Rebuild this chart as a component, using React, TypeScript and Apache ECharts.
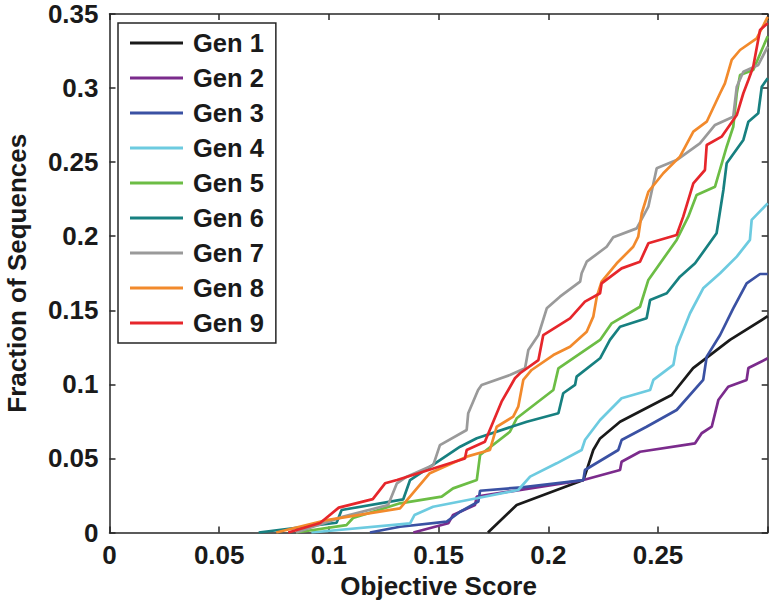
import React, { useEffect, useRef } from "react";
import * as echarts from "echarts";

const seriesNames = ["Gen 1", "Gen 2", "Gen 3", "Gen 4", "Gen 5", "Gen 6", "Gen 7", "Gen 8", "Gen 9"];
const seriesColors = ["#1a1a1a", "#7b2b8c", "#3a51a3", "#6dcbe0", "#6cbd45", "#178080", "#9a9a9a", "#f28a2c", "#e6262b"];

const gen1 = [[0.1725,0],[0.1856,0.0186],[0.216,0.0354],[0.2205,0.0557],[0.2236,0.0635],[0.2327,0.0748],[0.2562,0.0928],[0.266,0.111],[0.2828,0.13],[0.3,0.146]];
const gen2 = [[0.1385,0],[0.1544,0.0062],[0.1566,0.0118],[0.1666,0.0186],[0.1674,0.0242],[0.216,0.0354],[0.2327,0.0422],[0.2334,0.0478],[0.2418,0.0545],[0.2669,0.0602],[0.2699,0.067],[0.2745,0.0714],[0.2775,0.0894],[0.282,0.0984],[0.2904,0.103],[0.2912,0.111],[0.3,0.1176]];
const gen3 = [[0.1187,0],[0.1324,0.0039],[0.1537,0.0073],[0.1598,0.014],[0.1681,0.0208],[0.1689,0.0282],[0.1879,0.0305],[0.216,0.0354],[0.2167,0.0422],[0.2319,0.0557],[0.2334,0.0624],[0.2448,0.0714],[0.2585,0.0827],[0.2706,0.103],[0.2722,0.1187],[0.2783,0.1333],[0.2843,0.1513],[0.2904,0.1682],[0.2965,0.1745],[0.3,0.1745]];
const gen4 = [[0.092,0],[0.137,0.0062],[0.139,0.0118],[0.1475,0.0174],[0.1674,0.0231],[0.1863,0.0287],[0.1917,0.0377],[0.2038,0.0467],[0.2152,0.0557],[0.2167,0.0624],[0.2236,0.0759],[0.2334,0.0906],[0.2464,0.0962],[0.2479,0.103],[0.257,0.1131],[0.2585,0.1254],[0.2646,0.148],[0.2706,0.1648],[0.2783,0.175],[0.2859,0.1862],[0.2919,0.1975],[0.2927,0.211],[0.3,0.2222]];
const gen5 = [[0.085,0],[0.108,0.005],[0.111,0.0098],[0.1324,0.0197],[0.1514,0.0242],[0.1566,0.0298],[0.1674,0.0354],[0.1689,0.0523],[0.1825,0.068],[0.1856,0.0771],[0.2023,0.0962],[0.2046,0.1108],[0.2236,0.13],[0.2289,0.1412],[0.2418,0.1524],[0.2456,0.1705],[0.2585,0.1975],[0.2638,0.2132],[0.2676,0.2278],[0.276,0.2334],[0.2813,0.2604],[0.2843,0.2739],[0.2859,0.2965],[0.2874,0.3088],[0.2934,0.3122],[0.2973,0.3257],[0.3,0.335]];
const gen6 = [[0.068,0],[0.1035,0.0066],[0.1058,0.0152],[0.1339,0.0224],[0.137,0.0354],[0.1598,0.0579],[0.1674,0.0636],[0.1902,0.0748],[0.2046,0.0805],[0.2068,0.094],[0.2122,0.0996],[0.2129,0.1052],[0.2236,0.1176],[0.2281,0.13],[0.2327,0.1389],[0.2448,0.1446],[0.2464,0.157],[0.254,0.1615],[0.26,0.1727],[0.2669,0.1817],[0.2767,0.202],[0.2798,0.2312],[0.2813,0.2492],[0.2889,0.265],[0.2912,0.2773],[0.2957,0.283],[0.2973,0.3009],[0.3,0.3066]];
const gen7 = [[0.085,0],[0.1066,0.0107],[0.127,0.0186],[0.131,0.0332],[0.1355,0.0377],[0.1476,0.0456],[0.1506,0.059],[0.1628,0.0692],[0.1635,0.0805],[0.168,0.0962],[0.1696,0.0996],[0.1825,0.1063],[0.1894,0.1108],[0.1909,0.1232],[0.1955,0.1333],[0.1993,0.1513],[0.2053,0.1592],[0.2145,0.1693],[0.2152,0.175],[0.2175,0.1828],[0.2266,0.1929],[0.2296,0.1993],[0.2403,0.2053],[0.2456,0.2199],[0.2494,0.2458],[0.2585,0.2514],[0.2691,0.2627],[0.276,0.2751],[0.2843,0.2807],[0.2859,0.3009],[0.2889,0.311],[0.2957,0.3156],[0.3,0.328]];
const gen8 = [[0.076,0],[0.099,0.0084],[0.1324,0.0163],[0.146,0.04],[0.1628,0.0512],[0.1734,0.0557],[0.1765,0.0714],[0.184,0.0782],[0.1863,0.0849],[0.1886,0.103],[0.1924,0.1097],[0.2023,0.1198],[0.2099,0.1254],[0.2175,0.1355],[0.2205,0.1457],[0.2221,0.1592],[0.2243,0.1693],[0.2312,0.1817],[0.2387,0.1929],[0.241,0.1997],[0.2426,0.2155],[0.2456,0.23],[0.2524,0.2425],[0.26,0.2537],[0.2661,0.2706],[0.2722,0.2773],[0.2783,0.2965],[0.2805,0.3032],[0.2836,0.319],[0.2874,0.3257],[0.295,0.3336],[0.3,0.348]];
const gen9 = [[0.0815,0],[0.096,0.0064],[0.1045,0.0168],[0.12,0.0225],[0.1256,0.0332],[0.131,0.0354],[0.162,0.05],[0.1628,0.0557],[0.1711,0.0613],[0.1787,0.0883],[0.1848,0.1041],[0.1871,0.1075],[0.1955,0.1164],[0.1977,0.1333],[0.2099,0.1446],[0.2167,0.1558],[0.2236,0.1615],[0.2243,0.1682],[0.2334,0.1783],[0.2418,0.1828],[0.2456,0.1952],[0.2585,0.2008],[0.2615,0.2132],[0.2661,0.2357],[0.2714,0.2447],[0.2722,0.2616],[0.279,0.2672],[0.2859,0.2818],[0.2889,0.2965],[0.2912,0.3055],[0.2934,0.3144],[0.2965,0.3392],[0.3,0.3437]];

const seriesData = [gen1, gen2, gen3, gen4, gen5, gen6, gen7, gen8, gen9];

const FONT = "'Liberation Sans', Arial, Helvetica, sans-serif";
const AXIS_COLOR = "#262626";
const TEXT_COLOR = "#1a1a1a";

export default function App() {
  const ref = useRef<HTMLDivElement>(null);
  useEffect(() => {
    if (!ref.current) return;
    const chart = echarts.init(ref.current, null, { renderer: "svg" });
    const axisCommon = {
      type: "value",
      min: 0,
      interval: 0.05,
      splitLine: { show: false },
      axisLine: { show: true, onZero: false, lineStyle: { color: AXIS_COLOR, width: 1.5 } },
      axisTick: { show: true, inside: true, length: 6, lineStyle: { color: AXIS_COLOR, width: 1.5 } },
    };
    const textBase = { fontFamily: FONT, fontWeight: "bold", fontSize: 26, color: TEXT_COLOR };
    chart.setOption({
      animation: false,
      backgroundColor: "#ffffff",
      grid: { left: 109.5, right: 2.3, top: 14, bottom: 76.5, containLabel: false, outerBoundsMode: "none" },
      legend: {
        show: true,
        orient: "vertical",
        left: 118,
        top: 23,
        data: seriesNames,
        icon: "rect",
        itemWidth: 53,
        itemHeight: 3,
        itemGap: 5,
        padding: [5, 12, 5, 12],
        borderColor: AXIS_COLOR,
        borderWidth: 1.5,
        backgroundColor: "#ffffff",
        textStyle: { ...textBase, fontSize: 25.5, lineHeight: 30, padding: [0, 0, 0, 5] },
      },
      xAxis: [
        {
          ...axisCommon,
          max: 0.3,
          name: "Objective Score",
          nameLocation: "middle",
          nameGap: 40,
          nameTextStyle: textBase,
          axisLabel: {
            ...textBase,
            margin: 9.5,
            formatter: (v: number) => (v >= 0.2999 ? "" : String(Math.round(v * 100) / 100)),
          },
        },
        {
          ...axisCommon,
          max: 0.3,
          position: "top",
          axisLabel: { show: false },
        },
      ],
      yAxis: [
        {
          ...axisCommon,
          max: 0.35,
          name: "Fraction of Sequences",
          nameLocation: "middle",
          nameGap: 80,
          nameTextStyle: textBase,
          axisLabel: {
            ...textBase,
            margin: 11,
            formatter: (v: number) => String(Math.round(v * 100) / 100),
          },
        },
        {
          ...axisCommon,
          max: 0.35,
          position: "right",
          axisLabel: { show: false },
        },
      ],
      series: seriesNames.map((name, i) => ({
        name,
        type: "line",
        data: seriesData[i],
        showSymbol: false,
        symbol: "none",
        clip: true,
        color: seriesColors[i],
        lineStyle: { color: seriesColors[i], width: 2.7 },
        itemStyle: { color: seriesColors[i] },
        emphasis: { disabled: true },
      })),
    });
    return () => chart.dispose();
  }, []);
  return <div ref={ref} style={{ position: "fixed", left: 0, top: 0, width: 770, height: 609 }} />;
}
